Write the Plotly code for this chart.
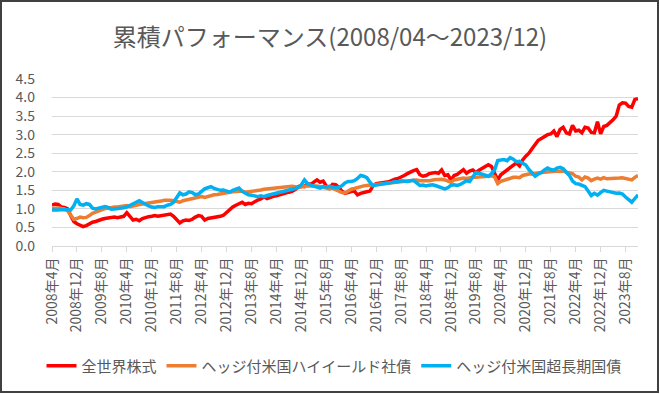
import plotly.graph_objects as go

# Monthly labels 2008/04 .. 2023/12
months = [f"{y}年{m}月" for y in range(2008, 2024) for m in range(1, 13)]
months = months[3:]  # start 2008年4月 (189 months)

tick_labels = ["2008年4月", "2008年12月", "2009年8月", "2010年4月", "2010年12月", "2011年8月",
               "2012年4月", "2012年12月", "2013年8月", "2014年4月", "2014年12月", "2015年8月",
               "2016年4月", "2016年12月", "2017年8月", "2018年4月", "2018年12月", "2019年8月",
               "2020年4月", "2020年12月", "2021年8月", "2022年4月", "2022年12月", "2023年8月"]

world_equity = [
    1.10, 1.13, 1.12, 1.05, 1.04, 1.00, 0.82, 0.66, 0.60,
    0.55, 0.52, 0.55, 0.60, 0.64, 0.66, 0.70, 0.72, 0.74, 0.76, 0.77, 0.78,
    0.76, 0.79, 0.80, 0.90, 0.80, 0.70, 0.72, 0.68, 0.74, 0.77, 0.79, 0.80,
    0.82, 0.80, 0.81, 0.84, 0.85, 0.86, 0.80, 0.70, 0.62, 0.68, 0.70, 0.69,
    0.72, 0.78, 0.82, 0.80, 0.70, 0.74, 0.75, 0.77, 0.78, 0.80, 0.83, 0.90,
    1.00, 1.05, 1.10, 1.15, 1.18, 1.12, 1.15, 1.14, 1.20, 1.24, 1.27, 1.32,
    1.28, 1.32, 1.34, 1.35, 1.38, 1.40, 1.42, 1.45, 1.47, 1.52, 1.60, 1.62,
    1.60, 1.68, 1.66, 1.72, 1.78, 1.72, 1.75, 1.62, 1.56, 1.66, 1.65, 1.58,
    1.48, 1.42, 1.45, 1.47, 1.48, 1.38, 1.42, 1.45, 1.46, 1.48, 1.62, 1.68,
    1.70, 1.72, 1.72, 1.73, 1.77, 1.80, 1.82, 1.85, 1.90, 1.95, 2.00, 2.03,
    2.06, 1.92, 1.88, 1.90, 1.95, 1.97, 1.98, 1.96, 2.05, 1.90, 1.92, 1.78,
    1.90, 1.93, 2.00, 2.06, 1.96, 2.02, 2.05, 1.98, 2.04, 2.10, 2.14, 2.19,
    2.14, 1.96, 1.78, 1.92, 1.98, 2.05, 2.10, 2.18, 2.24, 2.16, 2.32, 2.42,
    2.50, 2.62, 2.73, 2.85, 2.90, 2.95, 3.00, 3.02, 3.10, 2.95, 3.14, 3.20,
    3.05, 3.02, 3.25, 3.10, 3.12, 3.05, 3.20, 3.18, 3.06, 3.05, 3.35, 3.02,
    3.22, 3.25, 3.32, 3.40, 3.50, 3.80, 3.86, 3.85, 3.76, 3.74, 3.95, 3.97,
]

us_high_yield = [
    1.00, 1.02, 1.03, 1.01, 1.00, 0.95, 0.82, 0.72, 0.74,
    0.78, 0.76, 0.77, 0.82, 0.88, 0.91, 0.95, 0.98, 1.01, 1.02, 1.04, 1.05,
    1.05, 1.06, 1.08, 1.09, 1.06, 1.07, 1.10, 1.12, 1.13, 1.15, 1.16, 1.17,
    1.19, 1.20, 1.21, 1.23, 1.24, 1.23, 1.22, 1.20, 1.18, 1.22, 1.24, 1.25,
    1.29, 1.31, 1.32, 1.33, 1.31, 1.34, 1.36, 1.38, 1.39, 1.41, 1.41, 1.43,
    1.45, 1.46, 1.47, 1.48, 1.48, 1.45, 1.46, 1.48, 1.47, 1.50, 1.51, 1.53,
    1.54, 1.55, 1.56, 1.57, 1.58, 1.59, 1.60, 1.59, 1.61, 1.60, 1.58, 1.59,
    1.61, 1.62, 1.62, 1.63, 1.62, 1.60, 1.59, 1.56, 1.54, 1.56, 1.52, 1.48,
    1.44, 1.43, 1.49, 1.53, 1.55, 1.58, 1.60, 1.62, 1.63, 1.64, 1.64, 1.66,
    1.68, 1.69, 1.70, 1.71, 1.72, 1.73, 1.74, 1.73, 1.75, 1.76, 1.76, 1.77,
    1.78, 1.76, 1.75, 1.76, 1.76, 1.78, 1.79, 1.79, 1.80, 1.78, 1.76, 1.72,
    1.78, 1.80, 1.82, 1.83, 1.82, 1.84, 1.85, 1.85, 1.85, 1.86, 1.87, 1.88,
    1.89, 1.86, 1.68, 1.74, 1.77, 1.80, 1.83, 1.85, 1.85, 1.84, 1.90, 1.93,
    1.94, 1.94, 1.96, 1.97, 1.98, 1.99, 2.00, 2.01, 2.01, 2.02, 2.01, 2.02,
    1.99, 1.96, 1.95, 1.88, 1.86, 1.78, 1.86, 1.83, 1.76, 1.80, 1.83, 1.80,
    1.84, 1.81, 1.81, 1.82, 1.82, 1.83, 1.84, 1.82, 1.80, 1.78, 1.85, 1.90,
]

us_long_treasury = [
    0.97, 0.96, 0.97, 0.98, 0.99, 0.98, 0.97, 1.08, 1.27,
    1.12, 1.10, 1.14, 1.12, 1.02, 1.00, 1.02, 1.04, 1.06, 1.04, 0.99, 1.00,
    1.01, 1.00, 1.03, 1.05, 1.10, 1.15, 1.18, 1.22, 1.17, 1.14, 1.08, 1.05,
    1.04, 1.06, 1.05, 1.06, 1.10, 1.12, 1.18, 1.30, 1.43, 1.38, 1.40, 1.46,
    1.44, 1.38, 1.40, 1.47, 1.54, 1.57, 1.60, 1.55, 1.52, 1.50, 1.51, 1.48,
    1.45, 1.50, 1.52, 1.56, 1.47, 1.42, 1.38, 1.37, 1.36, 1.33, 1.35, 1.33,
    1.36, 1.38, 1.40, 1.42, 1.44, 1.45, 1.47, 1.50, 1.52, 1.55, 1.58, 1.65,
    1.78, 1.68, 1.64, 1.62, 1.58, 1.56, 1.60, 1.59, 1.61, 1.58, 1.57, 1.58,
    1.62, 1.70, 1.74, 1.74, 1.76, 1.82, 1.90, 1.88, 1.84, 1.72, 1.62, 1.64,
    1.65, 1.66, 1.69, 1.70, 1.71, 1.73, 1.73, 1.76, 1.75, 1.74, 1.76, 1.77,
    1.70, 1.63, 1.64, 1.62, 1.64, 1.65, 1.63, 1.60, 1.58, 1.54, 1.57, 1.64,
    1.65, 1.63, 1.66, 1.70, 1.76, 1.74, 1.86, 1.98, 1.96, 1.94, 1.90, 1.88,
    1.95, 2.05, 2.30, 2.32, 2.33, 2.30, 2.38, 2.34, 2.27, 2.28, 2.23, 2.18,
    2.06, 1.96, 1.88, 1.94, 1.98, 2.05, 2.10, 2.06, 2.04, 2.10, 2.12, 2.08,
    2.00, 1.90, 1.75, 1.68, 1.67, 1.64, 1.60, 1.48, 1.36, 1.42, 1.37, 1.44,
    1.50, 1.48, 1.46, 1.44, 1.42, 1.43, 1.40, 1.32, 1.26, 1.18, 1.28, 1.38,
]

series = [
    ("全世界株式", world_equity, "#FF0000"),
    ("ヘッジ付米国ハイイールド社債", us_high_yield, "#ED7D31"),
    ("ヘッジ付米国超長期国債", us_long_treasury, "#00B0F0"),
]

FONT = "Noto Sans CJK JP"
GRAY = "#595959"

fig = go.Figure()
for name, vals, color in series:
    fig.add_trace(go.Scatter(x=months, y=vals, mode="lines", name=name,
                             line=dict(color=color, width=3.5)))

W, H = 660, 394
ml, mr, mt, mb = 52, 22, 79, 148
pw, ph = W - ml - mr, H - mt - mb

fig.update_layout(
    width=W, height=H,
    margin=dict(l=ml, r=mr, t=mt, b=mb),
    paper_bgcolor="white", plot_bgcolor="white",
    font=dict(family=FONT, color=GRAY),
    title=dict(text="累積パフォーマンス(2008/04～2023/12)", x=0.5, xanchor="center",
               y=1 - 38 / H, yanchor="middle", font=dict(size=24, color=GRAY, family=FONT)),
    showlegend=True,
    legend=dict(orientation="h", x=(334 - ml) / pw, xanchor="center", y=(H - mb - 366) / ph,
                yanchor="middle", font=dict(size=15, color=GRAY, family=FONT),
                itemwidth=30, tracegroupgap=0),
    xaxis=dict(type="category", range=[0, len(months) - 1], tickmode="array",
               tickvals=tick_labels, ticktext=tick_labels, tickangle=-90,
               tickfont=dict(size=14, color=GRAY, family=FONT),
               showgrid=False, showline=True, linecolor="#D9D9D9", linewidth=1,
               ticks="outside", ticklen=5, tickcolor="#D9D9D9", zeroline=False),
    yaxis=dict(range=[0, 4.5], dtick=0.5, tickformat=".1f",
               tickfont=dict(size=14, color=GRAY, family=FONT), ticklabelstandoff=16,
               showgrid=True, gridcolor="#D9D9D9", gridwidth=1, zeroline=False,
               showline=False, ticks=""),
)

# chart border around whole figure
fig.add_shape(type="rect", xref="paper", yref="paper",
              x0=(1 - ml) / pw, x1=(W - 2 - ml) / pw,
              y0=(H - mb - (H - 2)) / ph, y1=(H - mb - 1) / ph,
              line=dict(color="#404040", width=2), fillcolor="rgba(0,0,0,0)", layer="above")

fig.write_html("out.html", config={"displayModeBar": False},
               post_script="document.body.style.margin='0';document.body.style.padding='0';")
